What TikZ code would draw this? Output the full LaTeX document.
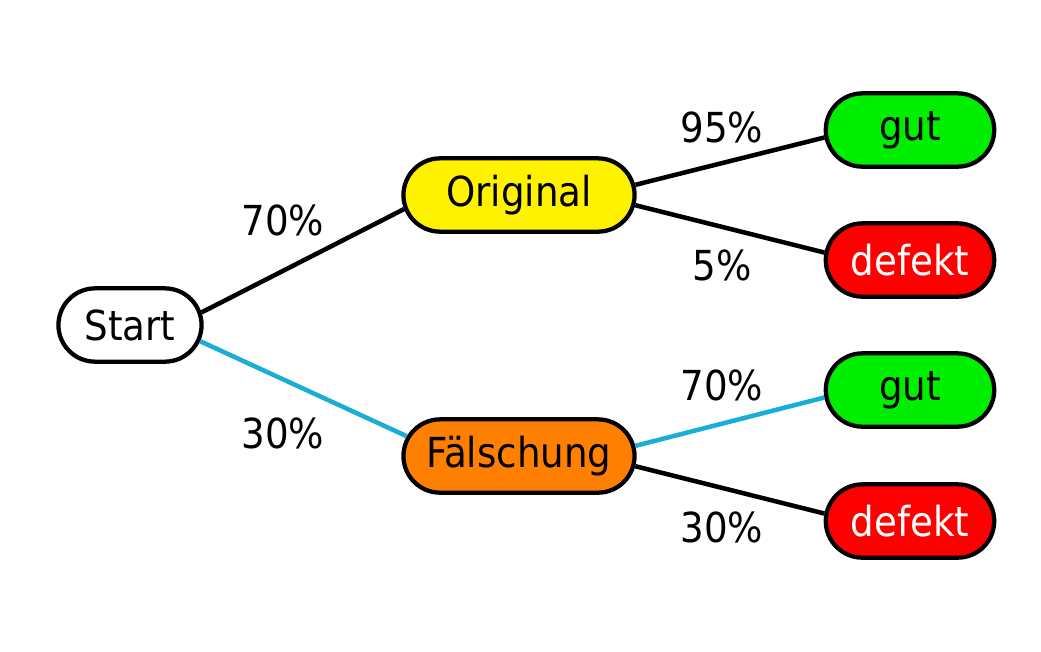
\documentclass[tikz,border=0pt]{standalone}
\usepackage{fontspec}
\setmainfont{DejaVu Sans Condensed}
\usetikzlibrary{shapes.misc}

\definecolor{fakeblue}{RGB}{26,174,214}
\definecolor{fakeorange}{RGB}{255,128,0}
\definecolor{goodgreen}{RGB}{0,238,0}

\tikzset{
	box/.style = {rounded rectangle, draw = black, line width = 3.2pt, minimum height = 55pt, font = \fontsize{31}{37}\selectfont},
	branch/.style = {line width = 3.4pt, black},
	fake/.style = {line width = 3.4pt, fakeblue},
	prob/.style = {font = \fontsize{31}{37}\selectfont}
}

\begin{document}
\begin{tikzpicture}[x = 0.75pt, y = -0.75pt]

	\useasboundingbox (0, 0) rectangle (1041, 651);

	% Nodes
	
	\node [box, fill = white, minimum width = 114pt] (start) at (130, 325) {Start};
	\node [box, fill = yellow, minimum width = 180pt] (orig) at (519, 195) {Original};
	\node [box, fill = fakeorange, minimum width = 180pt] (fake) at (519, 456) {Fälschung};
	
	\node [box, fill = goodgreen, minimum width = 133pt] (origgut) at (910, 130) {gut};
	\node [box, fill = red, text = white, minimum width = 133pt] (origdef) at (910, 260) {defekt};
	\node [box, fill = goodgreen, minimum width = 133pt] (fakegut) at (910, 390) {gut};
	\node [box, fill = red, text = white, minimum width = 133pt] (fakedef) at (910, 521) {defekt};
	
	% Branches
	
	\draw [branch] (start.10) -- (orig.187);
	\draw [fake] (start.-13) -- (fake.170);
	\draw [branch] (orig.5) -- (origgut.185);
	\draw [branch] (orig.-5) -- (origdef.175);
	\draw [fake] (fake.5) -- (fakegut.185);
	\draw [branch] (fake.-5) -- (fakedef.175);
	
	% Probabilities
	
	\node [prob] (p1) at (283, 220) {70\%};
	\node [prob] (p2) at (283, 433) {30\%};
	\node [prob] (p3) at (722, 127) {95\%};
	\node [prob] (p4) at (722, 265) {5\%};
	\node [prob] (p5) at (722, 385) {70\%};
	\node [prob] (p6) at (722, 527) {30\%};

\end{tikzpicture}
\end{document}
